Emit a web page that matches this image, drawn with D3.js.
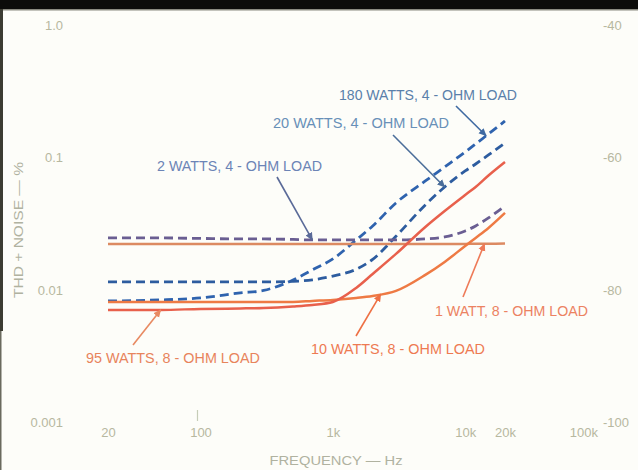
<!DOCTYPE html>
<html>
<head>
<meta charset="utf-8">
<script src="https://cdn.jsdelivr.net/npm/d3@7"></script>
<style>
  html, body { margin: 0; padding: 0; background: #fdfdf9; }
  svg { display: block; }
</style>
</head>
<body>
<svg id="chart" width="638" height="470"></svg>
<script>
// Test frequencies (Hz) shared by every curve
const freqs = [20, 50, 100, 200, 300, 500, 700, 1000, 1500, 2000, 3000, 5000, 7000, 10000, 12000, 15000, 20000];

// THD + noise (%) per test condition
const thd180W4ohm = [0.00824, 0.00839, 0.00868, 0.00948, 0.00990, 0.01188, 0.01414, 0.01713, 0.02384, 0.03043, 0.04545, 0.06664, 0.08505, 0.1104, 0.1270, 0.1511, 0.1895];
const thd20W4ohm  = [0.01148, 0.01148, 0.01148, 0.01148, 0.01148, 0.01160, 0.01190, 0.01270, 0.01430, 0.01700, 0.02540, 0.04390, 0.06004, 0.07932, 0.08960, 0.1048, 0.1292];
const thd2W4ohm   = [0.02470, 0.02470, 0.02448, 0.02427, 0.02427, 0.02405, 0.02384, 0.02384, 0.02384, 0.02384, 0.02384, 0.02427, 0.02513, 0.02789, 0.03043, 0.03500, 0.04311];
const thd95W8ohm  = [0.00705, 0.00705, 0.00717, 0.00723, 0.00729, 0.00749, 0.00769, 0.00810, 0.01034, 0.01319, 0.01869, 0.02991, 0.03952, 0.05222, 0.06004, 0.07334, 0.0928];
const thd10W8ohm  = [0.00810, 0.00810, 0.00810, 0.00810, 0.00810, 0.00810, 0.00824, 0.00839, 0.00868, 0.00899, 0.00981, 0.01297, 0.01626, 0.02148, 0.02470, 0.02938, 0.03818];
const thd1W8ohm   = [0.02224, 0.02224, 0.02224, 0.02224, 0.02224, 0.02224, 0.02224, 0.02224, 0.02224, 0.02224, 0.02224, 0.02224, 0.02224, 0.02224, 0.02233, 0.02233, 0.02243];

// Curve labels and the frequency each leader arrow points at
const curveLabels = ["180 WATTS, 4 - OHM LOAD", "20 WATTS, 4 - OHM LOAD", "2 WATTS, 4 - OHM LOAD",
                     "95 WATTS, 8 - OHM LOAD", "10 WATTS, 8 - OHM LOAD", "1 WATT, 8 - OHM LOAD"];
const arrowFreqs = [14400, 7000, 700, 50, 2300, 14000];

// Axis ticks
const xTickValues = [20, 100, 1000, 10000, 20000, 100000];
const xTickLabels = ["20", "100", "1k", "10k", "20k", "100k"];
const yTickValues = [0.001, 0.01, 0.1, 1];
const yTickLabels = ["0.001", "0.01", "0.1", "1.0"];
const dbTickValues = [-100, -80, -60, -40];
const dbTickLabels = ["-100", "-80", "-60", "-40"];

const svg = d3.select("#chart");
const W = 638, H = 470;

svg.append("rect").attr("width", W).attr("height", H).attr("fill", "#fdfdf9");

// scales: equal decade size on both log axes
const x = d3.scaleLog().domain([20, 20000]).range([108, 505]);
const y = d3.scaleLog().domain([0.001, 1]).range([422, 25.5]);
const yDb = d3.scaleLinear().domain([-100, -40]).range([422, 25.5]);

const tickColor = "#b7b8a0";
const font = "'Liberation Sans', Arial, sans-serif";

// left axis (percent)
const gLeft = svg.append("g").attr("transform", "translate(66,0)")
  .call(d3.axisLeft(y).tickValues(yTickValues).tickSize(0).tickPadding(3)
    .tickFormat((d, i) => yTickLabels[i]));
// right axis (dB)
const gRight = svg.append("g").attr("transform", "translate(600,0)")
  .call(d3.axisRight(yDb).tickValues(dbTickValues).tickSize(0).tickPadding(3)
    .tickFormat((d, i) => dbTickLabels[i]));
// bottom axis (frequency)
const gBottom = svg.append("g").attr("transform", "translate(0,424)")
  .call(d3.axisBottom(x).tickValues(xTickValues).tickSize(0).tickPadding(4)
    .tickFormat((d, i) => xTickLabels[i]));
gBottom.selectAll(".tick text").filter(d => d === 100000).attr("text-anchor", "end");

[gLeft, gRight, gBottom].forEach(g => {
  g.select(".domain").remove();
  g.selectAll(".tick text").attr("fill", tickColor).attr("font-family", font).attr("font-size", 13);
});

// small tick stub above the 100 Hz label
svg.append("line").attr("x1", x(100) - 3).attr("x2", x(100) - 3).attr("y1", 410).attr("y2", 421)
  .attr("stroke", "#c6cdb8").attr("stroke-width", 1.2);

// axis titles
svg.append("text").attr("x", 336).attr("y", 465).attr("text-anchor", "middle")
  .attr("font-family", font).attr("font-size", 13).attr("fill", "#b0b2a0")
  .attr("textLength", 133).attr("lengthAdjust", "spacingAndGlyphs")
  .text("FREQUENCY \u2014 Hz");
svg.append("text").attr("transform", "translate(23,230) rotate(-90)").attr("text-anchor", "middle")
  .attr("font-family", font).attr("font-size", 13).attr("fill", "#b0b2a0")
  .attr("textLength", 136).attr("lengthAdjust", "spacingAndGlyphs")
  .text("THD + NOISE \u2014 %");

// curves
const series = [
  { values: thd180W4ohm, color: "#2f63ae", dash: "9,5", width: 2.8 },
  { values: thd20W4ohm,  color: "#2d5c9f", dash: "9,5", width: 2.8 },
  { values: thd2W4ohm,   color: "#6a5e92", dash: "9,5", width: 2.8 },
  { values: thd1W8ohm,   color: "#dc8a62", dash: null,  width: 2.5 },
  { values: thd10W8ohm,  color: "#ee7a44", dash: null,  width: 2.5 },
  { values: thd95W8ohm,  color: "#e8604c", dash: null,  width: 2.5 }
];

const line = d3.line()
  .x(d => x(d[0]))
  .y(d => y(d[1]))
  .curve(d3.curveMonotoneX);

svg.append("g").selectAll("path").data(series).join("path")
  .attr("d", s => line(freqs.map((f, i) => [f, s.values[i]])))
  .attr("fill", "none")
  .attr("stroke", s => s.color)
  .attr("stroke-width", s => s.width)
  .attr("stroke-dasharray", s => s.dash)
  .attr("stroke-linecap", "butt");

// value of a curve at any frequency, interpolated on the log-log grid
function valueAt(values, f) {
  const lf = Math.log10(f);
  for (let i = 0; i < freqs.length - 1; i++) {
    const a = Math.log10(freqs[i]), b = Math.log10(freqs[i + 1]);
    if (lf >= a && lf <= b) {
      const t = (lf - a) / (b - a);
      return Math.pow(10, Math.log10(values[i]) * (1 - t) + Math.log10(values[i + 1]) * t);
    }
  }
  return values[values.length - 1];
}

// labels with leader arrows
const notes = [
  { series: thd180W4ohm, lx: 339, ly: 100, len: 178, color: "#5a80aa", lead: "#3f6aa2", tail: [456, 106] },
  { series: thd20W4ohm,  lx: 273, ly: 128, len: 176, color: "#6890b8", lead: "#4b6e9a", tail: [393, 135] },
  { series: thd2W4ohm,   lx: 157, ly: 171, len: 165, color: "#6c84b6", lead: "#5a6a98", tail: [277, 177] },
  { series: thd95W8ohm,  lx: 86,  ly: 363, len: 174, color: "#e8845c", lead: "#e88a62", tail: [133, 345] },
  { series: thd10W8ohm,  lx: 311, ly: 354, len: 174, color: "#ee7a52", lead: "#ee7044", tail: [356, 336] },
  { series: thd1W8ohm,   lx: 435, ly: 316, len: 153, color: "#ec8262", lead: "#ee7a58", tail: [463, 297] }
];

const defs = svg.append("defs");
notes.forEach((n, i) => {
  defs.append("marker").attr("id", "arr" + i)
    .attr("viewBox", "0 0 10 10").attr("refX", 9).attr("refY", 5)
    .attr("markerWidth", 5).attr("markerHeight", 5).attr("orient", "auto")
    .attr("markerUnits", "strokeWidth")
    .append("path").attr("d", "M0,0.5 L10,5 L0,9.5 Z").attr("fill", n.lead);
});

const gNotes = svg.append("g");
notes.forEach((n, i) => {
  const f = arrowFreqs[i];
  const tx = x(f), ty = y(valueAt(n.series, f));
  gNotes.append("line")
    .attr("x1", n.tail[0]).attr("y1", n.tail[1])
    .attr("x2", tx).attr("y2", ty)
    .attr("stroke", n.lead).attr("stroke-width", 1.6)
    .attr("marker-end", `url(#arr${i})`);
  gNotes.append("text")
    .attr("x", n.lx).attr("y", n.ly)
    .attr("font-family", font).attr("font-size", 14)
    .attr("fill", n.color)
    .attr("textLength", n.len).attr("lengthAdjust", "spacingAndGlyphs")
    .text(curveLabels[i]);
});

// dark frame edges of the sheet
svg.append("rect").attr("x", 0).attr("y", 0).attr("width", W).attr("height", 9).attr("fill", "#0c0c0a");
svg.append("rect").attr("x", 0).attr("y", 9).attr("width", W).attr("height", 1.5).attr("fill", "#8a8a80");
svg.append("rect").attr("x", 0).attr("y", 9).attr("width", 3).attr("height", 322).attr("fill", "#3c3c32");
svg.append("rect").attr("x", 0).attr("y", 331).attr("width", 1.5).attr("height", 139).attr("fill", "#6a6a5e");
</script>
</body>
</html>
